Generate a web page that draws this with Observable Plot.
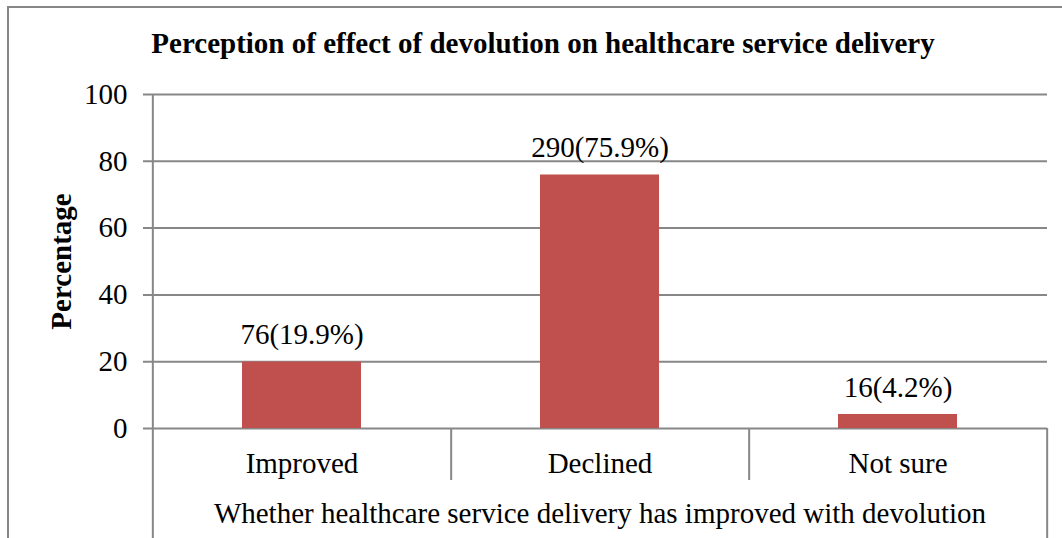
<!DOCTYPE html>
<html>
<head>
<meta charset="utf-8">
<script src="https://cdn.jsdelivr.net/npm/d3@7"></script>
<script src="https://cdn.jsdelivr.net/npm/@observablehq/plot@0.6"></script>
<style>
  html, body { margin: 0; padding: 0; background: #fff; overflow: hidden; }
  #wrap { position: relative; width: 1062px; height: 538px; }
  #border { position: absolute; left: 7px; top: 6px; width: 1200px; height: 700px;
            border-top: 2px solid #878787; border-left: 2px solid #878787; pointer-events: none; }
  #chart { position: absolute; left: 0; top: 0; }
</style>
</head>
<body>
<div id="wrap"><div id="chart"></div><div id="border"></div></div>
<script>
// ---- data ----
const categories = ["Improved", "Declined", "Not sure"];
const counts = [76, 290, 16];
const percents = [19.9, 75.9, 4.2];
const yTicks = [0, 20, 40, 60, 80, 100];
const title = "Perception of effect of devolution on healthcare service delivery";
const yLabel = "Percentage";
const xLabel = "Whether healthcare service delivery has improved with devolution";

const rows = categories.map((c, i) => ({category: c, count: counts[i], pct: percents[i]}));

const W = 1062, H = 538;
const mL = 152, mR = 15, mT = 94, mB = 110;
const step = (W - mL - mR) / categories.length;
const grid = "#878787";
const font = "'Liberation Serif', 'Times New Roman', serif";

const chart = Plot.plot({
  width: W, height: H,
  marginLeft: mL, marginRight: mR, marginTop: mT, marginBottom: mB,
  style: {fontFamily: font, fontSize: "29px", color: "#000", background: "#fff", overflow: "visible"},
  x: {domain: categories, paddingInner: 0.6, paddingOuter: 0.3, axis: null},
  y: {domain: [0, 100], axis: null},
  marks: [
    // gridlines with tick stubs
    Plot.ruleY(yTicks, {stroke: grid, strokeWidth: 2, insetLeft: -9}),
    // bars
    Plot.barY(rows, {x: "category", y: "pct", fill: "#C0504D"}),
    // left axis line + outer left separator
    Plot.ruleX([categories[0]], {stroke: grid, strokeWidth: 2, dx: -step / 2, insetBottom: -mB}),
    // inner category separators
    Plot.ruleX(categories.slice(0, -1), {y1: 0, stroke: grid, strokeWidth: 2, dx: step / 2, insetBottom: -52}),
    // outer right separator
    Plot.ruleX([categories[categories.length - 1]], {y1: 0, stroke: grid, strokeWidth: 2, dx: step / 2, insetBottom: -mB}),
    // y tick labels
    Plot.axisY(yTicks, {tickSize: 0, tickPadding: 25, label: null, fontSize: 29}),
    // x category labels
    Plot.axisX({tickSize: 0, tickPadding: 24, label: null, fontSize: 29}),
    // bar value labels
    Plot.text(rows, {x: "category", y: "pct", text: d => `${d.count}(${d.pct}%)`, lineAnchor: "middle", dy: -27, fontSize: 29}),
    // x axis title
    Plot.text([xLabel], {frameAnchor: "bottom", textAnchor: "middle", lineAnchor: "middle", dy: 85, fontSize: 29}),
    // y axis title
    Plot.text([yLabel], {frameAnchor: "left", textAnchor: "middle", rotate: -90, lineAnchor: "middle", dx: -91, fontSize: 29, fontWeight: "bold"}),
    // chart title
    Plot.text([title], {frameAnchor: "top", textAnchor: "middle", lineAnchor: "middle", dy: -51, dx: -57, fontSize: 29, fontWeight: "bold"})
  ]
});
document.getElementById("chart").appendChild(chart);
</script>
</body>
</html>
